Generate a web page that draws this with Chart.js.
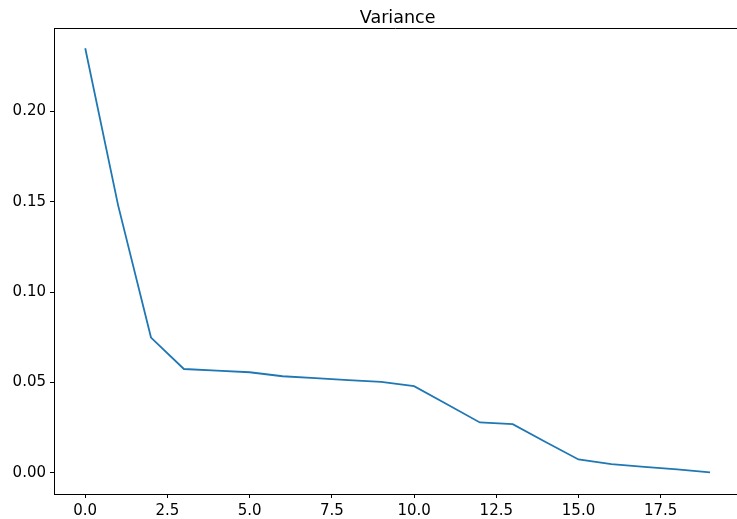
<!DOCTYPE html>
<html>
<head>
<meta charset="utf-8">
<script src="https://cdn.jsdelivr.net/npm/chart.js@4.4.0/dist/chart.umd.min.js"></script>
<style>
  html, body { margin: 0; padding: 0; background: #ffffff; overflow: hidden; }
  #c { display: block; }
</style>
</head>
<body>
<canvas id="c" width="737" height="519"></canvas>
<script>
// ---- data ----
const components = [0, 1, 2, 3, 4, 5, 6, 7, 8, 9, 10, 11, 12, 13, 14, 15, 16, 17, 18, 19];
const variance = [0.2350, 0.1480, 0.0748, 0.0574, 0.0565, 0.0556, 0.0534, 0.0523, 0.0513, 0.0503,
                  0.0479, 0.0379, 0.0278, 0.0269, 0.0170, 0.0073, 0.0047, 0.0032, 0.0018, 0.0002];
const xTicks = [0, 2.5, 5, 7.5, 10, 12.5, 15, 17.5];
const yTicks = [0, 0.05, 0.10, 0.15, 0.20];
const titleText = "Variance";

const FONT = "'DejaVu Sans', sans-serif";
const X_AXES_END = 19.95; // right edge of the (cropped) axes box, in data units

const frameAndTitle = {
  id: 'frameAndTitle',
  afterDraw(chart) {
    const a = chart.chartArea, ctx = chart.ctx;
    const xs = chart.scales.x;
    ctx.save();
    // top spine
    ctx.strokeStyle = '#000000';
    ctx.lineWidth = 1;
    ctx.beginPath();
    ctx.moveTo(a.left, Math.round(a.top) + 0.5);
    ctx.lineTo(a.right, Math.round(a.top) + 0.5);
    ctx.stroke();
    // title centred over the full axes box (which extends past the canvas edge)
    const cx = (a.left + xs.getPixelForValue(X_AXES_END)) / 2;
    ctx.fillStyle = '#000000';
    ctx.font = "17.5px " + FONT;
    ctx.textAlign = 'center';
    ctx.textBaseline = 'alphabetic';
    ctx.fillText(titleText, cx, 23);
    ctx.restore();
  }
};

new Chart(document.getElementById('c'), {
  type: 'line',
  data: {
    datasets: [{
      data: components.map((c, i) => ({ x: c, y: variance[i] })),
      borderColor: '#1f77b4',
      borderWidth: 1.8,
      pointRadius: 0,
      tension: 0,
      fill: false
    }]
  },
  options: {
    responsive: false,
    devicePixelRatio: 1,
    animation: false,
    layout: { padding: { left: 0, right: 0, top: 28, bottom: 0 } },
    plugins: {
      legend: { display: false },
      tooltip: { enabled: false },
      title: { display: false }
    },
    scales: {
      x: {
        type: 'linear',
        min: -0.95,
        max: 19.82,
        afterBuildTicks(scale) { scale.ticks = xTicks.map(v => ({ value: v })); },
        afterFit(scale) { scale.height = 25; },
        ticks: {
          color: '#000000',
          font: { family: FONT, size: 15 },
          padding: 4,
          maxRotation: 0,
          autoSkip: false,
          callback: v => Number(v).toFixed(1)
        },
        grid: { display: true, drawOnChartArea: false, drawTicks: true, tickLength: 4, color: '#000000', lineWidth: 1 },
        border: { display: true, color: '#000000', width: 1 }
      },
      y: {
        type: 'linear',
        min: -0.0118,
        max: 0.2462,
        afterBuildTicks(scale) { scale.ticks = yTicks.map(v => ({ value: v })); },
        afterFit(scale) { scale.width = 54; },
        ticks: {
          color: '#000000',
          font: { family: FONT, size: 15 },
          padding: 4,
          autoSkip: false,
          callback: v => Number(v).toFixed(2)
        },
        grid: { display: true, drawOnChartArea: false, drawTicks: true, tickLength: 4, color: '#000000', lineWidth: 1 },
        border: { display: true, color: '#000000', width: 1 }
      }
    }
  },
  plugins: [frameAndTitle]
});
</script>
</body>
</html>
